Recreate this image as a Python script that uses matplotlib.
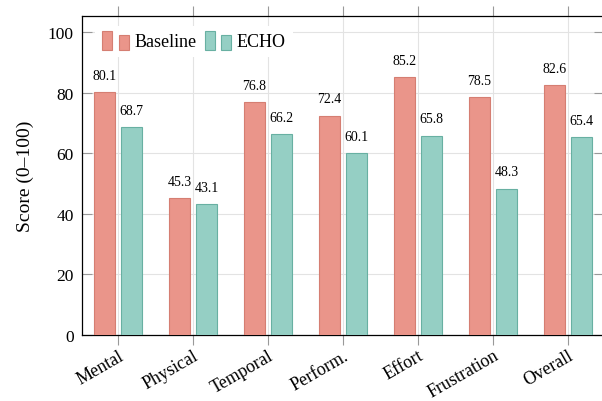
import matplotlib
matplotlib.use("Agg")
import matplotlib.pyplot as plt
import matplotlib.transforms as mtransforms
import numpy as np
from matplotlib.patches import Rectangle
from matplotlib.legend_handler import HandlerBase

categories = ["Mental", "Physical", "Temporal", "Perform.", "Effort", "Frustration", "Overall"]
baseline = [80.1, 45.3, 76.8, 72.4, 85.2, 78.5, 82.6]
echo = [68.7, 43.1, 66.2, 60.1, 65.8, 48.3, 65.4]
series_names = ["Baseline", "ECHO"]
yticks = [0, 20, 40, 60, 80, 100]

plt.rcParams['font.family'] = ['Liberation Serif', 'DejaVu Serif']

c_base, e_base = "#EA958A", "#D57E72"
c_echo, e_echo = "#95CFC4", "#68B0A2"

fig = plt.figure(figsize=(6.02, 4.02), dpi=100)
ax = fig.add_axes([82/602, (402-336)/402, (604-82)/602, (336-17)/402])

x = np.arange(len(categories))
w = 0.29
off = 0.18
b1 = ax.bar(x - off, baseline, w, color=c_base, edgecolor=e_base, linewidth=0.8, zorder=3, label=series_names[0])
b2 = ax.bar(x + off, echo, w, color=c_echo, edgecolor=e_echo, linewidth=0.8, zorder=3, label=series_names[1])

for xi, v in zip(x - off, baseline):
    ax.annotate(f"{v:.1f}", (xi, v), xytext=(0, 9.5), textcoords="offset points",
                ha="center", va="baseline", fontsize=10, zorder=4)
for xi, v in zip(x + off, echo):
    ax.annotate(f"{v:.1f}", (xi, v), xytext=(0, 9.5), textcoords="offset points",
                ha="center", va="baseline", fontsize=10, zorder=4)

ax.set_xlim(-0.48, len(categories) - 1 + 0.48)
ax.set_ylim(0, 105.3)
ax.set_yticks(yticks)
ax.set_xticks(x)
ax.set_xticklabels(categories, rotation=30, ha="right", va="top", rotation_mode="anchor", fontsize=13)
shift = mtransforms.ScaledTranslation(-5/100, 0, fig.dpi_scale_trans)
for lab in ax.get_xticklabels():
    lab.set_transform(lab.get_transform() + shift)
ax.tick_params(axis="y", labelsize=12.5, direction="in", left=True, right=True, length=7.5, width=0.8, color="#999999", pad=6)
ax.tick_params(axis="x", direction="out", bottom=True, top=True, length=7.5, width=0.8, color="#999999", pad=1)
ax.set_ylabel("Score (0–100)", fontsize=14, labelpad=10)

ax.grid(True, color="#e3e3e3", linewidth=0.8, zorder=0)
ax.set_axisbelow(True)
for s in ax.spines.values():
    s.set_color("black")
    s.set_linewidth(0.9)


class DoubleBarHandler(HandlerBase):
    def create_artists(self, legend, orig_handle, xdescent, ydescent, width, height, fontsize, trans):
        fc = orig_handle.get_facecolor()
        ec = orig_handle.get_edgecolor()
        bw = width * 0.38
        r1 = Rectangle((-xdescent, -ydescent - 0.3 * height), bw, height * 1.5, facecolor=fc, edgecolor=ec, linewidth=0.8, transform=trans)
        r2 = Rectangle((-xdescent + width - bw, -ydescent - 0.3 * height), bw, height * 1.2, facecolor=fc, edgecolor=ec, linewidth=0.8, transform=trans)
        return [r1, r2]


leg = ax.legend(handles=[b1.patches[0], b2.patches[0]], labels=series_names,
                handler_map={Rectangle: DoubleBarHandler()},
                loc="upper left", bbox_to_anchor=(0.008, 0.997), ncol=2, fontsize=13,
                frameon=True, framealpha=1.0, edgecolor="white", facecolor="white",
                handlelength=1.45, handletextpad=0.3, columnspacing=0.5, borderpad=0.4)
leg.get_frame().set_linewidth(0)

fig.savefig("out.png", dpi=100)
